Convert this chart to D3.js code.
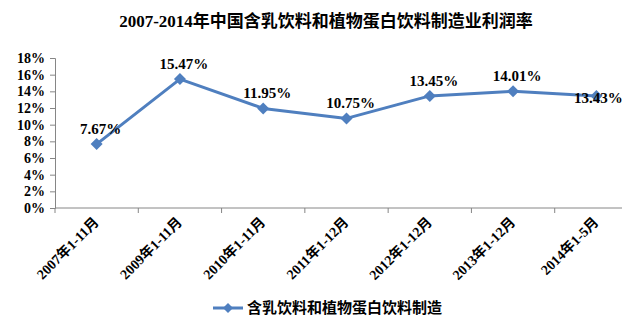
<!DOCTYPE html>
<html><head><meta charset="utf-8">
<script src="https://cdn.jsdelivr.net/npm/d3@7"></script>
<style>body{margin:0;background:#fff}svg{display:block}</style>
</head><body>
<script>
const title = "2007-2014年中国含乳饮料和植物蛋白饮料制造业利润率";
const categories = ["2007年1-11月","2009年1-11月","2010年1-11月","2011年1-12月","2012年1-12月","2013年1-12月","2014年1-5月"];
const values = [7.67, 15.47, 11.95, 10.75, 13.45, 14.01, 13.43];
const yTicks = [0,2,4,6,8,10,12,14,16,18];
const seriesName = "含乳饮料和植物蛋白饮料制造";

const W = 626, H = 322;
const color = "#4F7FBF";
const svg = d3.select("body").append("svg").attr("width", W).attr("height", H);
const serif = "'Liberation Serif','Noto Sans CJK SC',serif";
const cjk = "'Noto Sans CJK SC','Liberation Serif',sans-serif";

svg.append("text").attr("x", 326).attr("y", 27).attr("text-anchor","middle")
  .attr("font-family", serif).attr("font-weight","bold").attr("font-size",17)
  .text(title);

const x = d3.scaleBand().domain(categories).range([55, 638]);
const y = d3.scaleLinear().domain([0,18]).range([208, 58]);

// y axis
const ya = svg.append("g").attr("transform","translate(55,0)")
  .call(d3.axisLeft(y).tickValues(yTicks).tickFormat(d => d + "%").tickSize(5).tickPadding(5));
ya.select(".domain").attr("stroke","#868686");
ya.selectAll(".tick line").attr("stroke","#868686");
ya.selectAll("text").attr("font-family", serif).attr("font-weight","bold").attr("font-size",14).attr("fill","#000");

// x axis
const xa = svg.append("g").attr("transform","translate(0,208)")
  .call(d3.axisBottom(x).tickSize(0).tickFormat(""));
xa.select(".domain").attr("stroke","#868686").attr("d","M55,0H622");
const bounds = categories.map(c => x(c)).concat([x(categories[categories.length-1]) + x.bandwidth()]);
svg.append("g").selectAll("line").data(bounds.filter(b => b < 622)).join("line")
  .attr("x1", d => d).attr("x2", d => d).attr("y1", 208).attr("y2", 213)
  .attr("stroke","#868686");
svg.append("g").selectAll("text").data(categories).join("text")
  .attr("transform", d => `translate(${x(d) + x.bandwidth()/2 + 3},${223}) rotate(-45)`)
  .attr("text-anchor","end")
  .attr("font-family", serif).attr("font-weight","bold").attr("font-size",14)
  .text(d => d);

// line
const cx = (d,i) => x(categories[i]) + x.bandwidth()/2;
svg.append("path").datum(values)
  .attr("d", d3.line().x(cx).y(d => y(d)))
  .attr("fill","none").attr("stroke",color).attr("stroke-width",3).attr("stroke-linejoin","round");
const diamond = s => `M0,${-s}L${s},0L0,${s}L${-s},0Z`;
svg.append("g").selectAll("path").data(values).join("path")
  .attr("d", diamond(6))
  .attr("transform", (d,i) => `translate(${cx(d,i)},${y(d)})`)
  .attr("fill",color);

// data labels
svg.append("g").selectAll("text").data(values).join("text")
  .attr("x", (d,i) => cx(d,i) + (i === values.length-1 ? 2 : 4))
  .attr("y", (d,i) => y(d) + (i === values.length-1 ? 7 : -10))
  .attr("text-anchor","middle")
  .attr("font-family", serif).attr("font-weight","bold").attr("font-size",15)
  .text(d => d.toFixed(2) + "%");

// legend
svg.append("line").attr("x1",213).attr("x2",243).attr("y1",308).attr("y2",308)
  .attr("stroke",color).attr("stroke-width",3);
svg.append("path").attr("d", diamond(5)).attr("transform","translate(228,308)").attr("fill",color);
svg.append("text").attr("x",247).attr("y",313)
  .attr("font-family", cjk).attr("font-weight","bold").attr("font-size",15)
  .text(seriesName);
</script>
</body></html>
